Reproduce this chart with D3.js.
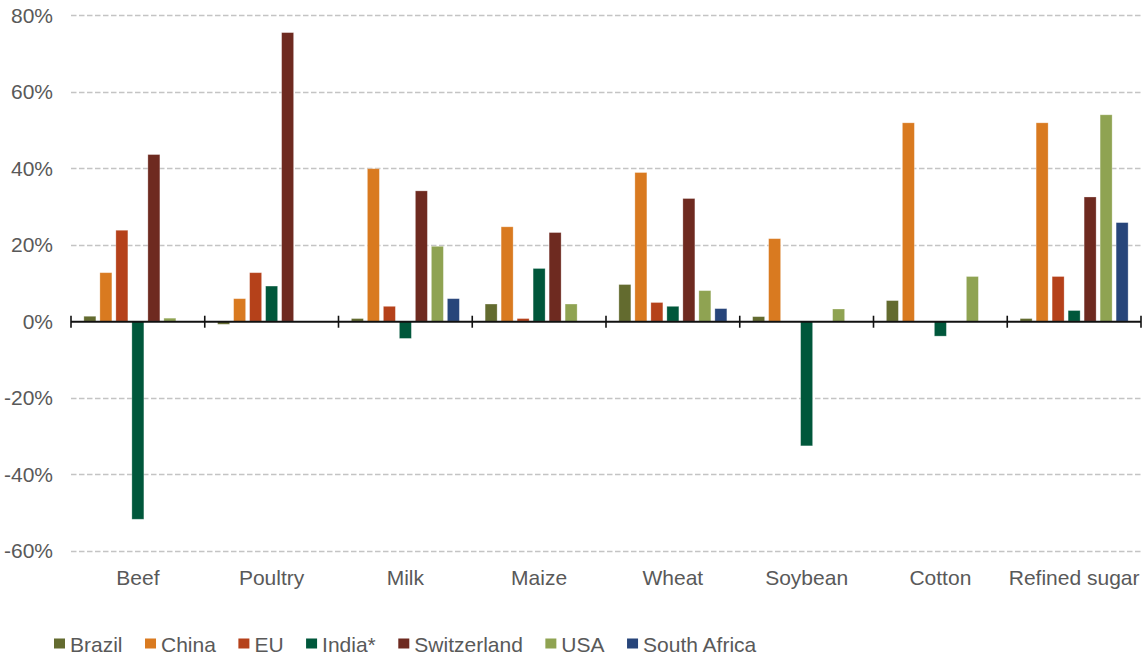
<!DOCTYPE html>
<html>
<head>
<meta charset="utf-8">
<script src="https://cdn.jsdelivr.net/npm/d3@7"></script>
<style>
  html, body { margin: 0; padding: 0; background: #fff; }
  svg { display: block; font-family: "Liberation Sans", Arial, sans-serif; }
</style>
</head>
<body>
<svg id="chart" width="1145" height="658"></svg>
<script>
// Commodity groups along the x axis
const categories = ["Beef", "Poultry", "Milk", "Maize", "Wheat", "Soybean", "Cotton", "Refined sugar"];

// Countries (one bar each per commodity)
const seriesNames = ["Brazil", "China", "EU", "India*", "Switzerland", "USA", "South Africa"];
const seriesColors = ["#636b2f", "#d97a20", "#b5411a", "#00573b", "#6e2a20", "#8fa352", "#27457a"];

// Values in percent, one array per country, ordered like `categories`; null = no bar
const brazil      = [1.3, -0.8, 0.7, 4.5, 9.6, 1.2, 5.4, 0.7];
const china       = [12.7, 5.9, 39.9, 24.7, 38.9, 21.6, 51.9, 51.9];
const eu          = [23.8, 12.7, 3.9, 0.7, 4.9, null, null, 11.7];
const india       = [-51.8, 9.2, -4.5, 13.8, 3.9, -32.6, -3.9, 2.8];
const switzerland = [43.6, 75.5, 34.1, 23.2, 32.1, null, null, 32.5];
const usa         = [0.8, null, 19.6, 4.5, 8.0, 3.2, 11.7, 54.0];
const southAfrica = [null, null, 5.9, null, 3.3, null, null, 25.8];

const seriesValues = [brazil, china, eu, india, switzerland, usa, southAfrica];

// Y axis ticks
const yTicks = [-60, -40, -20, 0, 20, 40, 60, 80];

const svg = d3.select("#chart");
const textColor = "#595959";
const fontSize = 21;

const x0 = d3.scaleBand().domain(categories).range([71, 1141]).padding(0);
const x1 = d3.scaleBand().domain(seriesNames).range([0, x0.bandwidth()])
  .paddingInner(0.25).paddingOuter(0.805);
const y = d3.scaleLinear().domain([-60, 80]).range([550.6, 15.4]);

// Dashed horizontal gridlines (all except zero)
svg.append("g").selectAll("line")
  .data(yTicks.filter(t => t !== 0))
  .join("line")
  .attr("x1", 71).attr("x2", 1141)
  .attr("y1", d => Math.round(y(d)) + 0.5).attr("y2", d => Math.round(y(d)) + 0.5)
  .attr("stroke", "#c4c4c4")
  .attr("stroke-width", 1.5)
  .attr("stroke-dasharray", "5.5,2.5");

// Y tick labels
svg.append("g").selectAll("text")
  .data(yTicks)
  .join("text")
  .attr("x", 53)
  .attr("y", d => y(d))
  .attr("dy", "0.36em")
  .attr("text-anchor", "end")
  .attr("fill", textColor)
  .attr("font-size", fontSize)
  .text(d => d + "%");

// Bars
const rows = [];
seriesNames.forEach((s, si) => {
  categories.forEach((c, ci) => {
    const v = seriesValues[si][ci];
    if (v !== null) rows.push({ series: s, cat: c, value: v, color: seriesColors[si] });
  });
});

svg.append("g").selectAll("rect")
  .data(rows)
  .join("rect")
  .attr("x", d => x0(d.cat) + x1(d.series))
  .attr("width", x1.bandwidth())
  .attr("y", d => Math.min(y(d.value), y(0)))
  .attr("height", d => Math.abs(y(d.value) - y(0)))
  .attr("fill", d => d.color)
  .attr("stroke", "#ffffff")
  .attr("stroke-opacity", 0.35)
  .attr("stroke-width", 0.8);

// Zero axis line with category boundary ticks
const axisG = svg.append("g");
axisG.append("line")
  .attr("x1", 71).attr("x2", 1141)
  .attr("y1", y(0) + 0.5).attr("y2", y(0) + 0.5)
  .attr("stroke", "#111").attr("stroke-width", 2);
const boundaries = categories.map(c => x0(c)).concat([x0.range()[1]]);
axisG.selectAll("line.tick")
  .data(boundaries)
  .join("line")
  .attr("class", "tick")
  .attr("x1", d => d).attr("x2", d => d)
  .attr("y1", y(0) - 5.5).attr("y2", y(0) + 6.5)
  .attr("stroke", "#111").attr("stroke-width", 1.6);

// Category labels
svg.append("g").selectAll("text")
  .data(categories)
  .join("text")
  .attr("x", d => x0(d) + x0.bandwidth() / 2)
  .attr("y", 585)
  .attr("text-anchor", "middle")
  .attr("fill", textColor)
  .attr("font-size", fontSize)
  .text(d => d);

// Legend
const legend = svg.append("g");
let lx = 54;
seriesNames.forEach((s, i) => {
  legend.append("rect")
    .attr("x", lx).attr("y", 638.5)
    .attr("width", 11).attr("height", 10)
    .attr("fill", seriesColors[i]);
  const t = legend.append("text")
    .attr("x", lx + 16).attr("y", 651.5)
    .attr("fill", textColor)
    .attr("font-size", fontSize)
    .text(s);
  lx += 16 + t.node().getComputedTextLength() + 22.5;
});
</script>
</body>
</html>
